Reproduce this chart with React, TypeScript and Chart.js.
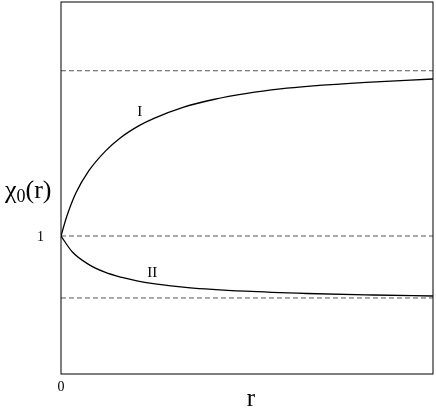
import React, { useEffect, useRef } from "react";
import { Chart, registerables } from "chart.js";

Chart.register(...registerables);

const rValues = [0, 0.15, 0.4, 0.75, 1.2, 1.6, 2.1, 2.5, 3.3, 4.1, 5, 5.9, 6.7, 8.2, 10];
const curveI = [1, 1.115, 1.26, 1.395, 1.515, 1.595, 1.668, 1.712, 1.78, 1.826, 1.863, 1.89, 1.907, 1.93, 1.95];
const rValuesII = [0, 0.3, 0.73, 1.18, 1.64, 2.07, 2.53, 3.41, 4.95, 6.61, 8.39, 10];
const curveII = [1, 0.905, 0.83, 0.781, 0.749, 0.727, 0.71, 0.688, 0.666, 0.652, 0.643, 0.637];
const asymptoteLevels = [2, 1, 0.625];
const xTickValues = [0];
const yTickValues = [1];
const curveLabels = [
  { text: "I", x: 2.12, y: 1.75 },
  { text: "II", x: 2.45, y: 0.776 },
];

const SERIF = "'Liberation Serif', 'DejaVu Serif', serif";

export default function App() {
  const ref = useRef<HTMLCanvasElement | null>(null);
  useEffect(() => {
    if (!ref.current) return;
    const textPlugin = {
      id: "textPlugin",
      afterDraw(chart: any) {
        const ctx = chart.ctx;
        const a = chart.chartArea;
        const xs = chart.scales.x;
        const ys = chart.scales.y;
        ctx.save();
        // frame
        ctx.strokeStyle = "#000";
        ctx.lineWidth = 1;
        ctx.strokeRect(a.left, a.top, a.right - a.left, a.bottom - a.top);
        ctx.fillStyle = "#000";
        // tick labels
        ctx.font = `14px ${SERIF}`;
        ctx.textAlign = "center";
        ctx.textBaseline = "top";
        for (const v of xTickValues) {
          ctx.fillText(String(v), xs.getPixelForValue(v), a.bottom + 6);
        }
        ctx.textAlign = "right";
        ctx.textBaseline = "middle";
        for (const v of yTickValues) {
          ctx.fillText(String(v), a.left - 17, ys.getPixelForValue(v) + 1);
        }
        // curve labels
        ctx.font = `15px ${SERIF}`;
        ctx.textAlign = "center";
        ctx.textBaseline = "middle";
        for (const l of curveLabels) {
          ctx.fillText(l.text, xs.getPixelForValue(l.x), ys.getPixelForValue(l.y));
        }
        // x title
        ctx.font = `25px ${SERIF}`;
        ctx.textBaseline = "alphabetic";
        ctx.fillText("r", (a.left + a.right) / 2 + 4, 406);
        // y title chi_0(r)
        ctx.textAlign = "left";
        let x = 5;
        const base = 198;
        ctx.font = `26px ${SERIF}`;
        ctx.fillText("χ", x, base);
        x += ctx.measureText("χ").width;
        ctx.font = `18px ${SERIF}`;
        ctx.fillText("0", x, base + 4);
        x += ctx.measureText("0").width;
        ctx.font = `26px ${SERIF}`;
        ctx.fillText("(r)", x, base);
        ctx.restore();
      },
    };
    const dash = (y: number) => ({
      data: [
        { x: 0, y },
        { x: 10, y },
      ],
      borderColor: "#555",
      borderWidth: 1,
      borderDash: [5, 3],
      pointRadius: 0,
      fill: false,
    });
    const chart = new Chart(ref.current, {
      type: "line",
      data: {
        datasets: [
          {
            data: rValues.map((r, i) => ({ x: r, y: curveI[i] })),
            borderColor: "#000",
            borderWidth: 1.3,
            pointRadius: 0,
            cubicInterpolationMode: "monotone",
            fill: false,
          },
          {
            data: rValuesII.map((r, i) => ({ x: r, y: curveII[i] })),
            borderColor: "#000",
            borderWidth: 1.3,
            pointRadius: 0,
            cubicInterpolationMode: "monotone",
            fill: false,
          },
          ...asymptoteLevels.map(dash),
        ] as any,
      },
      options: {
        animation: false,
        responsive: false,
        maintainAspectRatio: false,
        layout: { padding: { top: 2, right: 3, left: 61, bottom: 35 } },
        plugins: { legend: { display: false }, tooltip: { enabled: false } },
        scales: {
          x: { type: "linear", min: 0, max: 10, display: false },
          y: { type: "linear", min: 0.165, max: 2.416, display: false },
        },
      },
      plugins: [textPlugin],
    } as any);
    return () => chart.destroy();
  }, []);
  return (
    <div style={{ position: "fixed", left: 0, top: 0, width: 436, height: 409, background: "#fff" }}>
      <canvas ref={ref} width={436} height={409} style={{ width: 436, height: 409 }} />
    </div>
  );
}
